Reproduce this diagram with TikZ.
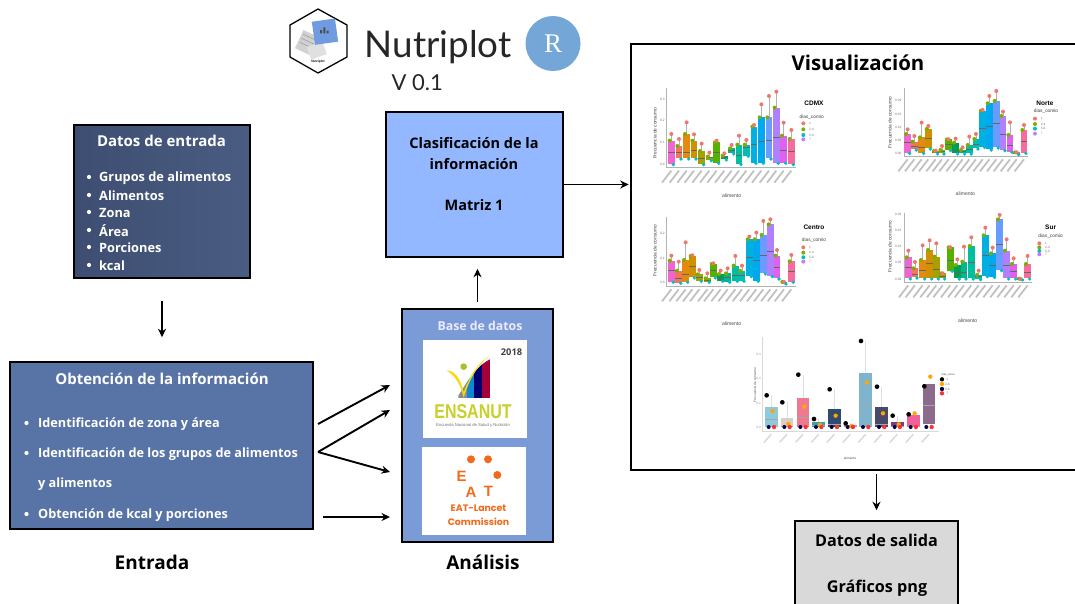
\documentclass[tikz,border=0pt]{standalone}
\usepackage{fontspec}
\setmainfont{Open Sans}
\newfontfamily\lato{Lato}
\newfontfamily\libs{Liberation Sans}
\newfontfamily\libserif{Liberation Serif}
\newfontfamily\pop{Poppins}
\usetikzlibrary{arrows.meta,calc}
\definecolor{cA}{HTML}{F066D0}\definecolor{cB}{HTML}{F0755A}\definecolor{cC}{HTML}{E58A10}
\definecolor{cD}{HTML}{D09000}\definecolor{cE}{HTML}{A8A000}\definecolor{cF}{HTML}{90A800}
\definecolor{cG}{HTML}{55B000}\definecolor{cH}{HTML}{00A050}\definecolor{cI}{HTML}{00B890}
\definecolor{cJ}{HTML}{00BFA0}\definecolor{cK}{HTML}{00BFB0}\definecolor{cL}{HTML}{00B0E0}
\definecolor{cM}{HTML}{00A8F0}\definecolor{cN}{HTML}{6A9CFF}\definecolor{cO}{HTML}{B080FF}
\definecolor{cP}{HTML}{E060F0}\definecolor{cQ}{HTML}{F5609F}\definecolor{cR}{HTML}{F76C9C}
\definecolor{ptR}{HTML}{F0776E}\definecolor{ptG}{HTML}{7CAE00}\definecolor{ptB}{HTML}{00BFC4}\definecolor{ptP}{HTML}{C77CFF}
\definecolor{eatorange}{HTML}{F26A1B}
\definecolor{hexblue}{HTML}{709BE0}
\tikzset{
 bigbox/.style={draw=black,line width=1.6pt,minimum width=#1,inner sep=0pt},
 arr/.style={-{Stealth[length=8.5pt,width=8pt]},line width=1.9pt,black},
 wtxt/.style={text=white,font=\bfseries\fontsize{12.8}{15}\selectfont,anchor=west,inner sep=0pt,yshift=-1pt},
 otxt/.style={wtxt,font=\bfseries\fontsize{12.7}{14}\selectfont},
 ttl/.style={font=\bfseries\fontsize{14.5}{17}\selectfont,inner sep=0pt},
 sttl/.style={font=\bfseries\fontsize{16.2}{19}\selectfont,inner sep=0pt},
 lbl/.style={font=\bfseries\fontsize{19}{22}\selectfont,inner sep=0pt},
 chtxt/.style={font=\libs\fontsize{4.8}{5}\selectfont,text=black!75,inner sep=0pt},
 chaxis/.style={font=\libs\fontsize{5.1}{6}\selectfont,text=black!70,inner sep=0pt},
 chhead/.style={font=\libs\bfseries\fontsize{6.5}{7}\selectfont,inner sep=0pt},
 chtick/.style={font=\libs\fontsize{3.2}{4}\selectfont,text=black!55,inner sep=0pt},
}
\newcommand{\chartplot}[5]{% axis x, bottom, top, right ; 5 = boxes
 \draw[black!30,line width=.7pt] (#1,#3)--(#1,#2)--(#4,#2);
 \foreach \px/\ptop/\pbot/\pmed/\pw/\pc in {#5}{%
  \draw[black!30,line width=.6pt] (\px,\pw)--(\px,\pbot);
  \fill[\pc] (\px-10,\ptop) rectangle (\px+10,\pbot);
  \draw[black!60,line width=.5pt] (\px-10,\pmed)--(\px+10,\pmed);
  \fill[ptG] (\px-5,\ptop) circle (6);
  \fill[ptR] (\px,\pw) circle (6);
  \fill[ptB] (\px+6,\pbot+2) circle (5.5);
  \draw[black!40,line width=1.8pt,opacity=.6] (\px,#2+10)--(\px-28,#2+46);
 }
}
\newcommand{\legendbox}[7]{% x dot, y1..y4, head x/y
 \fill[ptR] (#1,#2) circle (6); \node[chtick,anchor=west] at (#1+17,#2) {1};
 \fill[ptG] (#1,#3) circle (6); \node[chtick,anchor=west] at (#1+17,#3) {2-4};
 \fill[ptB] (#1,#4) circle (6); \node[chtick,anchor=west] at (#1+17,#4) {5-6};
 \fill[ptP] (#1,#5) circle (6); \node[chtick,anchor=west] at (#1+17,#5) {7};
 \node[chtxt] at (#6,#7) {dias\_comio};
}
\begin{document}
\begin{tikzpicture}[x=1pt,y=-1pt]
\useasboundingbox (0,0) rectangle (1075,603);
\fill[white] (0,0) rectangle (1075,603);

% --- Main boxes
\node[bigbox=176pt,minimum height=153pt,left color={rgb,255:red,62;green,78;blue,114},right color={rgb,255:red,74;green,92;blue,130}] (entrada) at (162,201.5) {};
\node[bigbox=303pt,minimum height=167pt,fill={rgb,255:red,88;green,115;blue,165}] (obt) at (161.5,445.5) {};
\node[bigbox=177pt,minimum height=145pt,fill={rgb,255:red,148;green,184;blue,255}] (clasif) at (474.5,184.5) {};
\node[bigbox=151pt,minimum height=233pt,fill={rgb,255:red,123;green,155;blue,214}] (base) at (477.5,425.5) {};
\node[draw=black,line width=2.6pt,fill=white,inner sep=0pt,minimum width=460pt,minimum height=426pt] (vis) at (861,257) {};
\node[draw=black,line width=1.6pt,fill={rgb,255:red,217;green,217;blue,217},inner sep=0pt,minimum width=163pt,minimum height=90pt] (salida) at (876.5,566) {};

% --- Entrada
\node[ttl,text=white,font=\bfseries\fontsize{15}{17}\selectfont] (t1) at (161.5,141) {Datos de entrada};
\foreach \yy/\tx [count=\i] in {177/Grupos de alimentos,195/Alimentos,212/Zona,230/Área,247/Porciones,265/kcal}{
  \fill[white] (89,\yy) circle (2.1);
  \node[wtxt] (e\i) at (99,\yy) {\tx};
}
% --- Obtencion
\node[ttl,text=white,font=\bfseries\fontsize{15}{17}\selectfont] (t2) at (162,379) {Obtención de la información};
\foreach \yy in {423,453,514}{\fill[white] (26.5,\yy) circle (2.1);}
\node[otxt] (o1) at (38,423) {Identificación de zona y área};
\node[otxt] (o2) at (38,453) {Identificación de los grupos de alimentos};
\node[otxt] (o3) at (38,483) {y alimentos};
\node[otxt] (o4) at (38,514) {Obtención de kcal y porciones};

% --- Clasificacion
\node[ttl] (c1) at (474,143) {Clasificación de la};
\node[ttl] (c2) at (474,164) {información};
\node[ttl] (c3) at (474,205) {Matriz 1};

% --- Salida
\node[sttl] (s1) at (876.5,540) {Datos de salida};
\node[sttl] (s2) at (877,588.5) {Gráficos png};

% --- Captions
\node[lbl] (capE) at (152,562) {Entrada};
\node[lbl] (capA) at (483,562) {Análisis};

% --- Base de datos
\node[text=white!92!blue,font=\bfseries\fontsize{12.3}{14}\selectfont,inner sep=0pt] (b0) at (480,325.5) {Base de datos};
\node[fill=white,inner sep=0pt,minimum width=104pt,minimum height=98pt] (ens) at (474.5,389) {};
\node[fill=white,inner sep=0pt,minimum width=104pt,minimum height=88pt] (eat) at (474,491) {};
\begin{scope}[shift={(395,305)},x=.3333pt,y=-.3333pt]
 \begin{scope}
  \clip (190,280)--(190,272) .. controls (225,215) and (250,180) .. (285,163) -- (285,280)--cycle;
  \fill[black!45] (190,160) rectangle (215,280);
  \fill[cyan!70!blue] (215,160) rectangle (238,280);
  \fill[blue!45!black] (238,160) rectangle (262,280);
  \fill[purple!85!black] (262,160) rectangle (285,280);
 \end{scope}
 \fill[yellow!75!orange] (155,197) .. controls (180,195) and (198,225) .. (206,262) .. controls (225,210) and (250,175) .. (282,153) .. controls (245,185) and (222,225) .. (206,278) .. controls (198,240) and (180,210) .. cycle;
 \fill[yellow!70!green!85!black] (206,185) circle (10);
 \fill[eatorange] (228,463) circle (12) (279,463) circle (12) (307,510) circle (12);
\end{scope}
\node[font=\bfseries\fontsize{9.3}{11}\selectfont,inner sep=0pt,text=black!75] (y18) at (511.5,352) {2018};
\node[font=\libs\bfseries\fontsize{20}{22}\selectfont,inner sep=0pt,text={rgb,255:red,200;green,208;blue,42},xscale=.8] (ensT) at (473,412) {ENSANUT};
\node[font=\libs\fontsize{4.2}{5}\selectfont,inner sep=0pt,text=black!55] (ensS) at (473,425.5) {Encuesta Nacional de Salud y Nutrición};
\node[font=\libs\bfseries\fontsize{15}{16}\selectfont,inner sep=0pt,text=eatorange] (eE) at (461.5,476) {E};
\node[font=\libs\bfseries\fontsize{15}{16}\selectfont,inner sep=0pt,text=eatorange] (eA) at (471,492) {A};
\node[font=\libs\bfseries\fontsize{15}{16}\selectfont,inner sep=0pt,text=eatorange] (eT) at (488.5,491) {T};
\node[font=\pop\bfseries\fontsize{9.4}{10}\selectfont,inner sep=0pt,text=eatorange] (eL) at (478.5,508.5) {EAT-Lancet};
\node[font=\pop\bfseries\fontsize{9.4}{10}\selectfont,inner sep=0pt,text=eatorange] (eC) at (478.5,521.5) {Commission};

% --- Header
\draw[black,line width=1.3pt] (318,9)--(347,25)--(347,57)--(318,73)--(290,57)--(290,25)--cycle;
\begin{scope}[shift={(280,0)},x=.3333pt,y=-.3333pt]
 \fill[black!18,rotate around={-25:(85,130)}] (55,100) rectangle (115,160);
 \draw[black!45,line width=.4pt,rotate around={-25:(85,130)}] (60,112)--(110,112) (60,125)--(110,125) (60,138)--(110,138);
 \fill[black!12,rotate around={20:(115,150)}] (85,130) rectangle (135,170);
 \fill[hexblue,rotate around={8:(135,95)}] (100,60) rectangle (170,130);
 \fill[black!70] (120,100) rectangle (126,90) (130,100) rectangle (136,82) (140,100) rectangle (146,92);
\end{scope}
\node[font=\libs\bfseries\fontsize{3.2}{4}\selectfont,inner sep=0pt] (hexT) at (318,62) {Nutriplot};
\node[font=\lato\fontsize{36.8}{42}\selectfont,anchor=base west,inner sep=0pt,text=black!85] (np) at (364.5,57) {Nutriplot};
\node[font=\lato\fontsize{22}{26}\selectfont,anchor=base west,inner sep=0pt,text=black!85] (ver) at (391.5,90) {V 0.1};
\node[circle,fill={rgb,255:red,116;green,167;blue,216},minimum size=55pt,inner sep=0pt] (rlogo) at (553,43.5) {};
\node[font=\libserif\fontsize{27}{30}\selectfont,text=white,inner sep=0pt] (rT) at (553,44) {R};

% --- Visualizacion
\node[font=\bfseries\fontsize{20.4}{24}\selectfont,inner sep=0pt] (vT) at (858,62.5) {Visualización};
\begin{scope}[shift={(630,40)},x=.3333pt,y=-.3333pt]
 \chartplot{110}{382}{145}{497}{124/302/372/337/282/cA,147/318/355/337/297/cB,170/282/355/338/247/cC,192/302/355/332/283/cD,215/333/372/355/311/cE,238/350/360/353/338/cF,260/307/368/337/302/cG,283/347/358/352/340/cH,305/325/340/332/315/cI,327/314/372/347/287/cJ,349/314/347/322/300/cK,372/260/368/312/255/cL,394/232/368/305/193/cM,417/232/355/300/168/cN,439/203/368/292/155/cO,461/287/368/332/248/cP,484/297/372/335/270/cR}
 \node[chhead] at (552,190) {CDMX};
 \legendbox{520}{250}{268}{285}{298}{545}{232}
 \node[chaxis] at (305,466) {alimento};
 \node[chtxt,rotate=90] at (75,280) {Frecuencia de consumo};
 \foreach \lab/\yy in {0.3/177,0.2/242,0.1/307,0.0/372}{\node[chtick] at (97,\yy) {\lab};}

 \chartplot{822}{348}{145}{1195}{833/282/338/307/268/cA,853/305/328/318/288/cB,875/292/338/322/248/cC,895/267/325/295/258/cD,917/333/340/336/332/cE,936/330/340/335/318/cF,956/298/330/312/298/cG,977/308/340/332/296/cH,998/330/340/335/322/cI,1018/315/340/328/290/cJ,1038/297/325/312/282/cK,1058/212/320/265/210/cL,1078/190/328/260/168/cM,1099/183/322/250/153/cN,1119/228/330/282/215/cO,1140/285/335/315/247/cP,1160/337/342/339/337/cQ,1182/270/338/305/255/cR}
 \node[chhead] at (1245,190) {Norte};
 \legendbox{1215}{236}{252}{266}{281}{1248}{215}
 \node[chaxis] at (1006,461) {alimento};
 \node[chtxt,rotate=90] at (780,248) {Frecuencia de consumo};
 \foreach \lab/\yy in {0.20/180,0.15/222,0.10/261,0.05/300,0.00/340}{\node[chtick] at (805,\yy) {\lab};}

 \chartplot{110}{738}{530}{497}{124/662/725/692/647/cA,146/692/728/715/665/cB,167/660/725/703/607/cC,187/648/712/680/646/cD,208/703/722/712/690/cE,232/715/725/720/700/cF,250/672/712/690/670/cG,272/702/722/714/692/cH,293/700/725/712/685/cI,316/677/722/705/648/cJ,336/693/722/707/677/cK,358/598/708/653/590/cL,379/598/722/660/578/cM,400/585/700/645/543/cN,421/553/708/633/538/cO,441/647/715/683/630/cP,462/726/730/728/726/cQ,484/664/725/695/645/cR}
 \node[chhead] at (552,562) {Centro};
 \legendbox{520}{622}{638}{652}{665}{552}{602}
 \node[chaxis] at (305,850) {alimento};
 \node[chtxt,rotate=90] at (75,632) {Frecuencia de consumo};
 \foreach \lab/\yy in {0.2/580,0.1/655,0.0/728}{\node[chtick] at (97,\yy) {\lab};}

 \chartplot{822}{726}{520}{1205}{835/652/715/683/632/cA,855/685/712/703/666/cB,878/660/715/692/616/cC,899/630/715/670/601/cD,919/650/715/688/610/cE,938/700/715/710/700/cF,961/622/692/662/622/cG,982/675/715/698/658/cH,1002/665/715/697/620/cI,1024/618/715/668/592/cJ,1046/705/717/710/692/cK,1066/586/708/645/563/cL,1088/640/710/675/623/cM,1109/538/690/612/525/cN,1130/632/715/677/598/cO,1151/672/715/695/655/cP,1172/716/718/717/717/cQ,1193/672/715/697/648/cR}
 \node[chhead] at (1262,562) {Sur};
 \legendbox{1228}{610}{622}{633}{643}{1262}{590}
 \node[chaxis] at (1013,842) {alimento};
 \node[chtxt,rotate=90] at (780,620) {Frecuencia de consumo};
 \foreach \lab/\yy in {0.20/523,0.15/570,0.10/620,0.05/668,0.00/717}{\node[chtick] at (805,\yy) {\lab};}
\end{scope}

% --- Bottom chart
\begin{scope}[shift={(700,325)},x=.3333pt,y=-.3333pt]
 \draw[black!15,line width=.5pt] (187,35)--(187,320)--(718,320);
 \foreach \px/\ptop/\pbot/\pmed/\pd/\po/\pc in {214/245/305/283/211/258/8FC9DC,261/280/305/302/232/297/D8D0C8,309/220/305/275/149/245/EE7A90,356/292/305/300/282/300/3BA39B,403/253/305/298/193/272/2F4B6E,451/300/305/303/295/303/F08070,497/143/305/240/48/173/7FB5CC,545/245/305/298/185/265/474A68,592/292/305/302/272/298/7A3E80,640/270/305/302/268/265/F0609A,687/177/298/240/184/155/8C6A8C}{
  \definecolor{tmpc}{HTML}{\pc}
  \draw[black!12,line width=.7pt] (\px,\pd)--(\px,\pbot);
  \fill[tmpc] (\px-19,\ptop) rectangle (\px+19,\pbot);
  \draw[black!35,line width=.3pt] (\px-19,\pmed)--(\px+19,\pmed);
  \fill[black] (\px-14,\pd) circle (7);
  \fill[orange!70!yellow] (\px+4,\po) circle (6.5);
  \fill[red!75!pink] (\px+8,306) circle (6.5);
  \fill[black!70!blue] (\px-8,306) circle (6);
  \draw[black!22,line width=1.4pt,opacity=.7] (\px,328)--(\px-22,352);
 }
 \foreach \lab/\yy in {0.3/88,0.2/160,0.1/235,0.0/307}{\node[chtick,text=black!40] at (176,\yy) {\lab};}
 \node[font=\libs\fontsize{3.2}{4}\selectfont,text=black!70,rotate=90,inner sep=0pt] at (165,180) {Frecuencia de consumo};
 \node[font=\libs\fontsize{3.2}{4}\selectfont,text=black!70,inner sep=0pt] at (450,400) {alimento};
 \node[font=\libs\fontsize{2.6}{3}\selectfont,text=black!70,inner sep=0pt] at (745,148) {dias\_comio};
 \fill[black] (726,163) circle (6.5); \node[chtick] at (742,163) {1};
 \fill[orange!70!yellow] (726,177) circle (6.5); \node[chtick] at (742,177) {2-4};
 \fill[black!70!blue] (726,192) circle (6.5); \node[chtick] at (742,192) {5-6};
 \fill[red!75!pink] (726,205) circle (6.5); \node[chtick] at (742,205) {7};
\end{scope}

% --- Connectors
\coordinate (a1) at (318,424); \coordinate (a2) at (318,452); \coordinate (a4) at (323,517);
\coordinate (b1) at (390,385); \coordinate (b2) at (390,410); \coordinate (b3) at (390,472); \coordinate (b4) at (390,517);
\draw[arr,shorten <=22pt,shorten >=24pt] (entrada.south) -- (entrada.south |- obt.north);
\draw[arr,shorten <=6pt,shorten >=11pt] (base.north) -- (base.north |- clasif.south);
\draw[arr,shorten >=1pt] (clasif.east) -- (clasif.east -| vis.west);
\draw[arr,shorten <=3pt,shorten >=10pt] (salida.north |- vis.south) -- (salida.north);
\draw[arr] (a1) -- (b1);
\draw[arr] (a2) -- (b2);
\draw[arr] (a2) -- (b3);
\draw[arr] (a4) -- (b4);
\end{tikzpicture}
\end{document}
